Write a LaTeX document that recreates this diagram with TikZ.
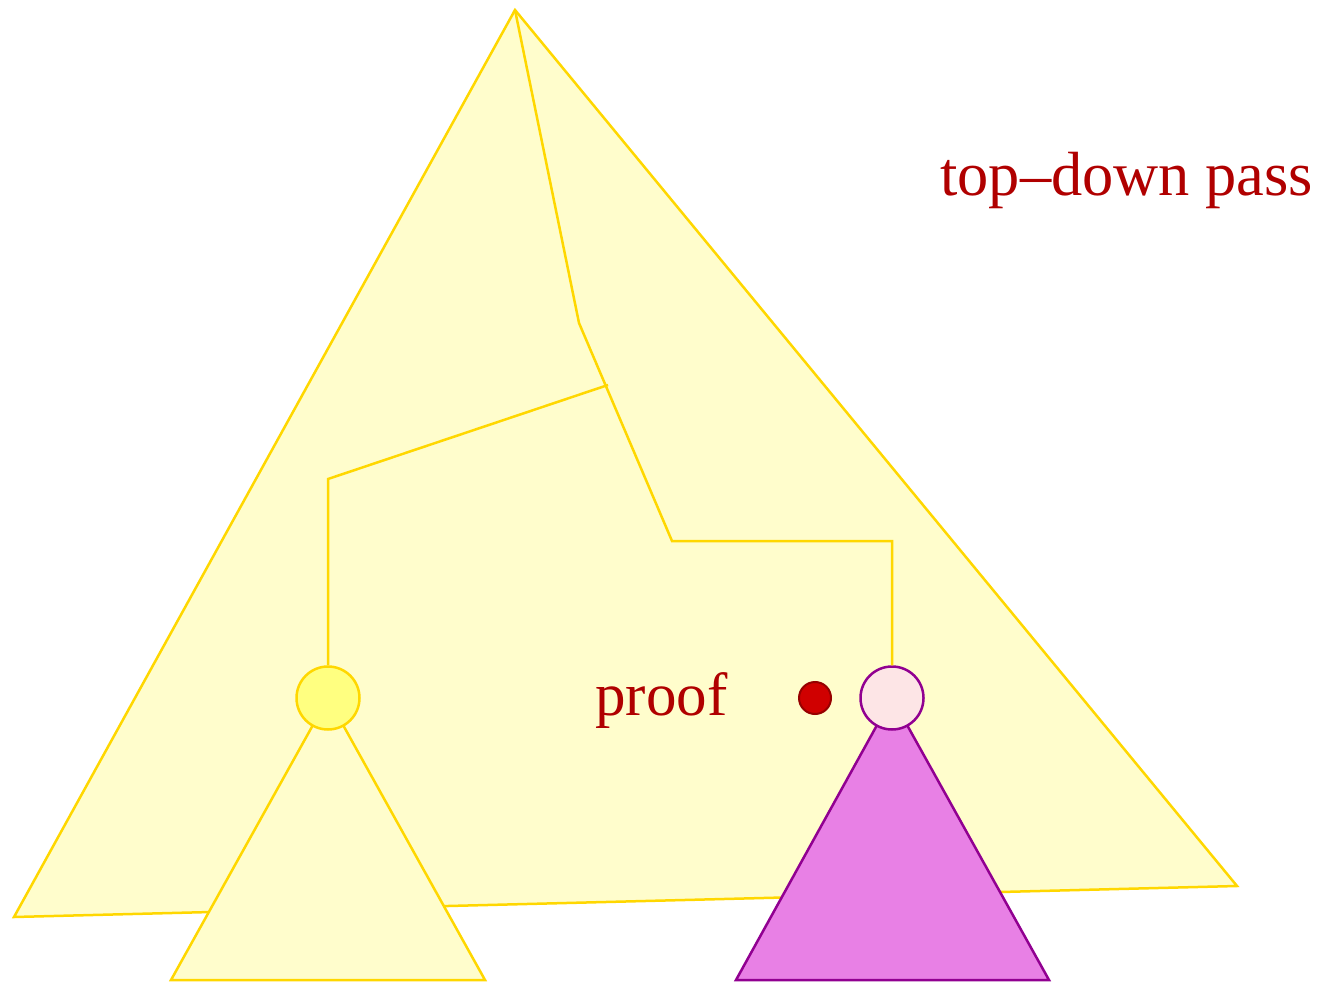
\documentclass[tikz,border=0pt]{standalone}
\usepackage{fontspec}
\setmainfont{Liberation Serif}
\definecolor{gold}{RGB}{255,215,0}
\definecolor{paleyellow}{RGB}{255,253,204}
\definecolor{lemon}{RGB}{255,255,128}
\definecolor{violetfill}{RGB}{232,128,229}
\definecolor{purpleline}{RGB}{145,0,145}
\definecolor{pinkfill}{RGB}{253,229,230}
\definecolor{dotred}{RGB}{208,0,0}
\definecolor{dotedge}{RGB}{150,0,0}
\definecolor{textred}{RGB}{176,0,0}
\tikzset{
  yellowtri/.style={draw=gold, fill=paleyellow, line width=1.25pt, line join=miter},
  violettri/.style={draw=purpleline, fill=violetfill, line width=1.25pt},
  treeline/.style={draw=gold, line width=1.25pt},
  ynode/.style={circle, draw=gold, fill=lemon, line width=1.25pt, minimum size=31.5pt, inner sep=0pt},
  pnode/.style={circle, draw=purpleline, fill=pinkfill, line width=1.25pt, minimum size=31.5pt, inner sep=0pt},
  rdot/.style={circle, draw=dotedge, fill=dotred, line width=1pt, minimum size=16pt, inner sep=0pt},
  lbl/.style={text=textred, font=\fontsize{30.5pt}{36pt}\selectfont, inner sep=0pt, anchor=base west}
}
\begin{document}
\begin{tikzpicture}[x=0.5pt, y=-0.5pt]
\useasboundingbox (0,0) rectangle (1326,983);
% big triangle
\draw[yellowtri] (515,10) -- (1237,886) -- (14,917) -- cycle;
% subtrees
\coordinate (lc) at (328,698);
\coordinate (rc) at (892,698);
\draw[yellowtri] (lc) -- (485,980) -- (171,980) -- cycle;
\draw[violettri] (rc) -- (1049,980) -- (736,980) -- cycle;
% tree path
\coordinate (top) at (515,10);
\coordinate (b1) at (579,323);
\coordinate (b2) at (672,541);
\coordinate (b3) at (892,541);
\coordinate (s0) at (608,385);
\coordinate (s1) at (328,479);
\node[ynode] (c1) at (lc) {};
\node[pnode] (c2) at (rc) {};
\node[rdot] (dot) at (815,698) {};
\draw[treeline, line join=miter] (top) -- (b1) -- (b2) -- (b3) -- (c2.north);
\draw[treeline, line join=miter] (s0) -- (s1) -- (c1.north);
% labels
\node[lbl] (proof) at (595,715) {proof};
\node[lbl, font=\fontsize{31.2pt}{36pt}\selectfont] (pass) at (940,196) {top–down pass};
\end{tikzpicture}
\end{document}
